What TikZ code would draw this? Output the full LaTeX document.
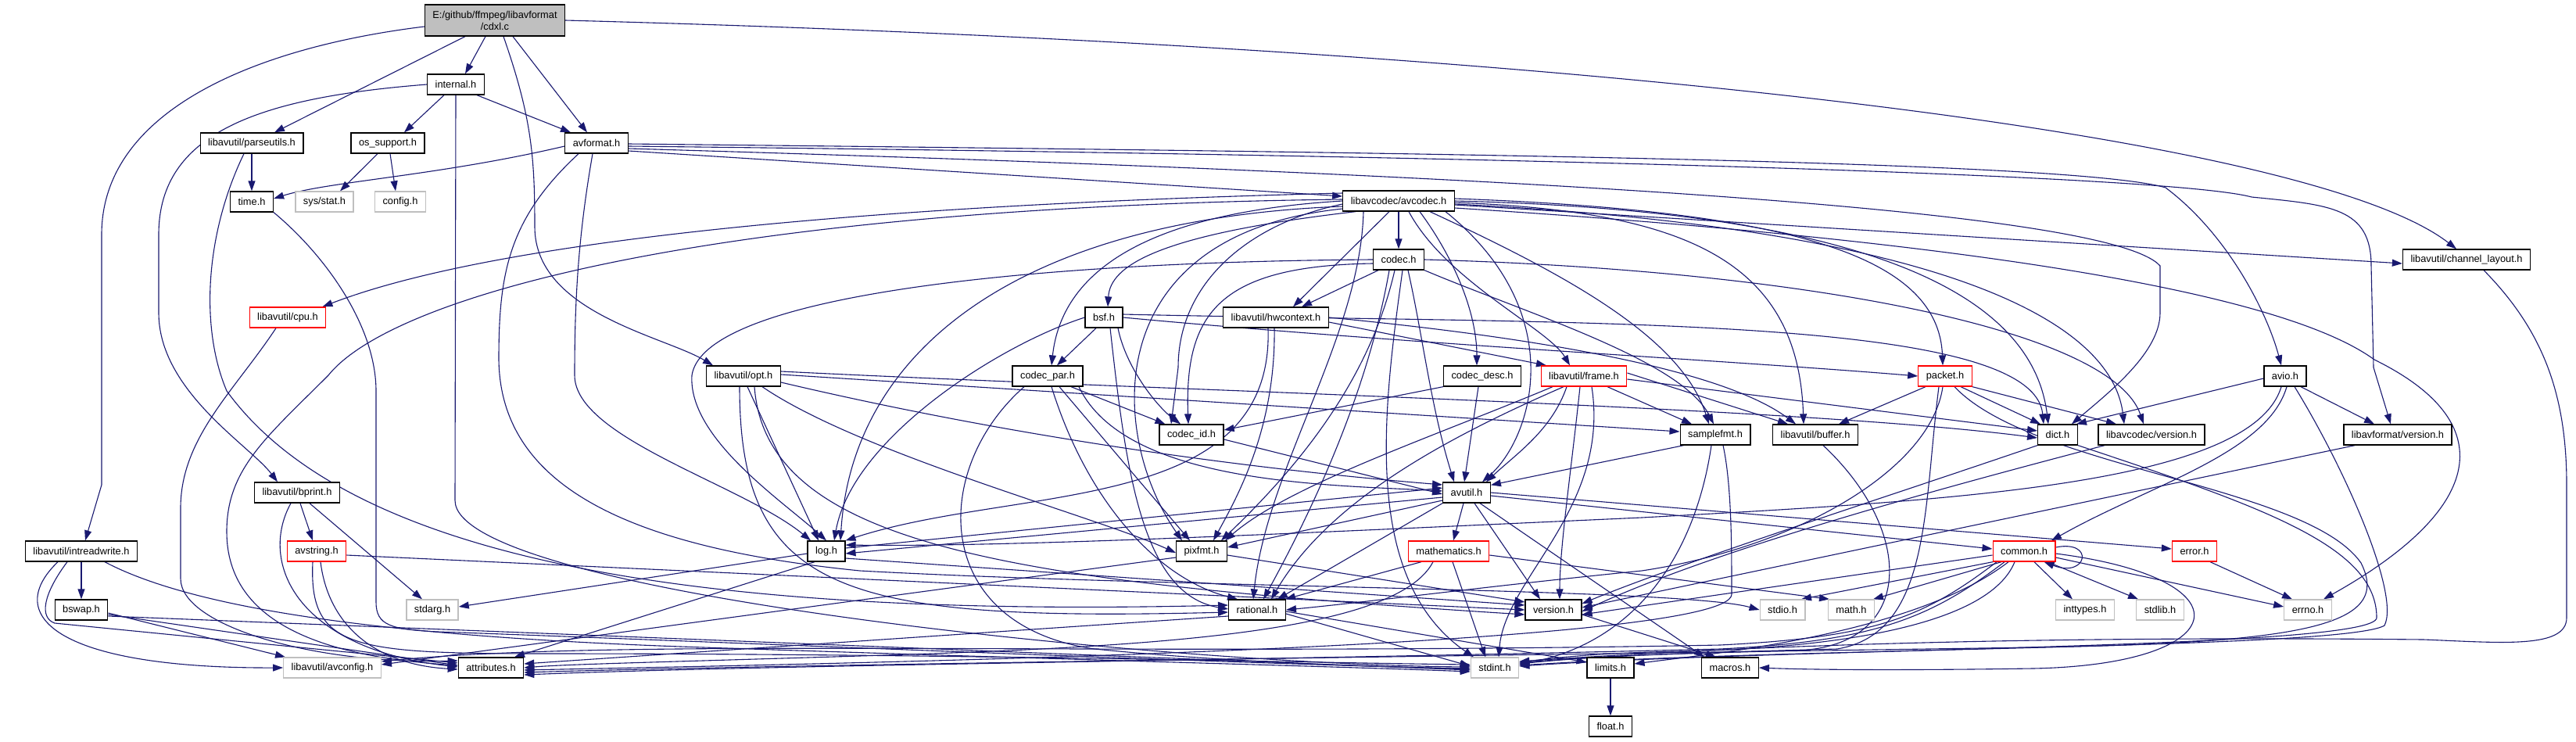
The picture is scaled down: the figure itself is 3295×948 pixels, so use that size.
\documentclass[tikz,border=0pt]{standalone}
\usepackage{fontspec}
\setmainfont{Liberation Sans}
\usetikzlibrary{arrows.meta}
\pgfdeclarelayer{bg}
\pgfsetlayers{bg,main}
\definecolor{edgec}{HTML}{191970}
\definecolor{grayb}{HTML}{BFBFBF}
\begin{document}
\begin{tikzpicture}[x=1pt,y=-1pt,
  nb/.style={draw=black,line width=1.3pt,fill=white,minimum height=26pt,inner xsep=10pt,inner ysep=0pt,font=\fontsize{12.8}{15}\selectfont},
  ng/.style={nb,draw=grayb},
  nr/.style={nb,draw=red},
  nroot/.style={nb,fill=grayb,align=center,minimum height=40pt},
  edg/.style={draw=edgec,line width=1.1pt,-{Triangle[length=13pt,width=9pt]}}]
\begin{pgfonlayer}{bg}
\fill[white] (0,0) rectangle (3295,948);
\end{pgfonlayer}
\useasboundingbox (0,0) rectangle (3295,948);
% nodes
\node[nroot] (cdxl) at (633,26) {E:/github/ffmpeg/libavformat\\/cdxl.c};
\node[nb] (internal) at (583,108) {internal.h};
\node[nb] (parseutils) at (322,183) {libavutil/parseutils.h};
\node[nb] (ossupport) at (496,183) {os\_support.h};
\node[nb] (avformat) at (763,183) {avformat.h};
\node[nb] (timeh) at (322,258) {time.h};
\node[ng] (sysstat) at (415,258) {sys/stat.h};
\node[ng] (config) at (512,258) {config.h};
\node[nb] (avcodec) at (1789,257) {libavcodec/avcodec.h};
\node[nb] (codec) at (1789,332) {codec.h};
\node[nb] (chlayout) at (3155,332) {libavutil/channel\_layout.h};
\node[nr] (cpu) at (368,406) {libavutil/cpu.h};
\node[nb] (bsf) at (1412,406) {bsf.h};
\node[nb] (hwcontext) at (1632,406) {libavutil/hwcontext.h};
\node[nb] (opt) at (951,481) {libavutil/opt.h};
\node[nb] (codecpar) at (1340,481) {codec\_par.h};
\node[nb] (codecdesc) at (1896,481) {codec\_desc.h};
\node[nr] (frame) at (2026,481) {libavutil/frame.h};
\node[nr] (packet) at (2488,481) {packet.h};
\node[nb] (avio) at (2923,481) {avio.h};
\node[nb] (codecid) at (1524,556) {codec\_id.h};
\node[nb] (samplefmt) at (2194,556) {samplefmt.h};
\node[nb] (buffer) at (2322,556) {libavutil/buffer.h};
\node[nb] (dict) at (2632,556) {dict.h};
\node[nb] (lavcversion) at (2752,556) {libavcodec/version.h};
\node[nb] (lavfversion) at (3067,556) {libavformat/version.h};
\node[nb] (bprint) at (380,630) {libavutil/bprint.h};
\node[nb] (avutil) at (1876,630) {avutil.h};
\node[nb] (intreadwrite) at (104,705) {libavutil/intreadwrite.h};
\node[nr] (avstring) at (405,705) {avstring.h};
\node[nb] (log) at (1057,705) {log.h};
\node[nb] (pixfmt) at (1537,705) {pixfmt.h};
\node[nr] (mathematics) at (1853,705) {mathematics.h};
\node[nr] (common) at (2589,705) {common.h};
\node[nr] (error) at (2807,705) {error.h};
\node[nb] (bswap) at (104,780) {bswap.h};
\node[ng] (stdarg) at (553,780) {stdarg.h};
\node[nb] (rational) at (1608,780) {rational.h};
\node[nb] (version) at (1987,780) {version.h};
\node[ng] (stdio) at (2280,780) {stdio.h};
\node[ng] (math) at (2368,780) {math.h};
\node[ng] (inttypes) at (2667,780) {inttypes.h};
\node[ng] (stdlib) at (2763,780) {stdlib.h};
\node[ng] (errno) at (2952,780) {errno.h};
\node[ng] (avconfig) at (425,854) {libavutil/avconfig.h};
\node[nb] (attributes) at (628,854) {attributes.h};
\node[ng] (stdint) at (1912,854) {stdint.h};
\node[nb] (limits) at (2060,854) {limits.h};
\node[nb] (macros) at (2213,854) {macros.h};
\node[nb] (float) at (2060,929) {float.h};
\begin{pgfonlayer}{bg}
% cdxl
\draw[edg] ([yshift=-8pt]cdxl.west) .. controls (330,60) and (130,140) .. (130,300) -- (130,620) -- ([xshift=5pt]intreadwrite.north);
\draw[edg] ([xshift=-38pt]cdxl.south) -- ([xshift=29pt]parseutils.north);
\draw[edg] ([xshift=-12pt]cdxl.south) -- ([xshift=12pt]internal.north);
\draw[edg] ([xshift=11pt]cdxl.south) .. controls (680,150) and (684,200) .. (684,290) .. controls (684,400) and (850,430) .. ([xshift=-39pt]opt.north);
\draw[edg] ([xshift=23pt]cdxl.south) -- ([xshift=-12pt]avformat.north);
\draw[edg] (cdxl.east) .. controls (2000,60) and (2950,170) .. ([xshift=-13pt]chlayout.north);
% internal
\draw[edg] (internal.west) .. controls (330,125) and (203,170) .. (203,300) -- (203,400) .. controls (203,500) and (320,570) .. ([xshift=-25pt]bprint.north);
\draw[edg] ([xshift=-15pt]internal.south) -- ([xshift=21pt]ossupport.north);
\draw[edg] ([xshift=27pt]internal.south) -- ([xshift=-33pt]avformat.north);
\draw[edg] (internal.south) -- (582,640) .. controls (582,760) and (1500,850) .. ([yshift=1pt]stdint.west);
% parseutils
\draw[edg] (parseutils) -- (timeh);
\draw[edg] ([xshift=-10pt]parseutils.south) .. controls (262,300) and (256,420) .. (290,500) .. controls (450,720) and (900,790) .. ([yshift=6pt]rational.west);
% os_support
\draw[edg] ([xshift=-13pt]ossupport.south) -- ([xshift=20pt]sysstat.north);
\draw[edg] ([xshift=3pt]ossupport.south) -- ([xshift=-6pt]config.north);
% avformat
\draw[edg] ([yshift=-4pt]avformat.west) .. controls (560,225) and (420,232) .. ([yshift=4pt]timeh.east);
\draw[edg] ([xshift=-5pt]avformat.south) .. controls (740,300) and (735,380) .. (735,480) .. controls (735,560) and (950,620) .. ([xshift=-20pt]log.north);
\draw[edg] ([xshift=-23pt]avformat.south) .. controls (650,280) and (638,350) .. (638,460) .. controls (640,620) and (800,700) .. (1100,730) .. controls (1500,752) and (2150,752) .. (stdio.west);
\draw[edg] ([yshift=-10pt]avformat.east) -- ([yshift=6pt]avcodec.west);
\draw[edg] ([yshift=-1pt]avformat.east) .. controls (1800,195) and (2650,205) .. (2770,240) .. controls (2850,300) and (2900,400) .. ([xshift=-5pt]avio.north);
\draw[edg] ([yshift=-4pt]avformat.east) .. controls (2000,200) and (2780,225) .. (2880,252) .. controls (2980,262) and (3033,265) .. (3033,340) -- (3036,470) -- ([xshift=-9pt]lavfversion.north);
\draw[edg] ([yshift=-7pt]avformat.east) .. controls (2000,225) and (2700,270) .. (2763,340) -- (2763,400) .. controls (2763,450) and (2700,500) .. ([xshift=-8pt]dict.north east);
% avcodec
\draw[edg] (avcodec) -- (codec);
\draw[edg] ([xshift=-55pt]avcodec.south) .. controls (1480,300) and (1420,340) .. ([xshift=5pt]bsf.north);
\draw[edg] ([xshift=-12pt]avcodec.south) -- ([xshift=22pt]hwcontext.north);
\draw[edg] (avcodec.west) .. controls (1500,270) and (1360,330) .. ([xshift=5pt]codecpar.north);
\draw[edg] ([yshift=-4pt]avcodec.west) .. controls (1600,285) and (1507,360) .. (1507,470) -- ([xshift=-26pt]codecid.north);
\draw[edg] ([xshift=27pt]avcodec.south) .. controls (1860,330) and (1889,400) .. ([xshift=-7pt]codecdesc.north);
\draw[edg] ([xshift=13pt]avcodec.south) .. controls (1850,360) and (1980,420) .. ([xshift=-18pt]frame.north);
\draw[edg] ([xshift=40pt]avcodec.south) .. controls (2000,350) and (2150,430) .. ([xshift=-8pt]samplefmt.north);
\draw[edg] ([xshift=60pt]avcodec.south) .. controls (2010,400) and (1960,560) .. ([xshift=20pt]avutil.north);
\draw[edg] ([yshift=-2pt]avcodec.east) .. controls (2150,270) and (2300,330) .. ([xshift=-15pt]buffer.north);
\draw[edg] ([yshift=3pt]avcodec.east) .. controls (2300,270) and (2480,330) .. ([xshift=-3pt]packet.north);
\draw[edg] (avcodec.east) .. controls (2400,270) and (2600,380) .. ([xshift=-12pt]dict.north);
\draw[edg] ([yshift=-4pt]avcodec.east) .. controls (2450,290) and (2700,400) .. ([xshift=-35pt]lavcversion.north);
\draw[edg] ([yshift=-9pt]avcodec.east) .. controls (2400,300) and (2900,360) .. (3037,460) .. controls (3200,540) and (3180,650) .. ([xshift=20pt]errno.north);
\draw[edg] ([yshift=-5pt]avcodec.east) -- ([yshift=-5pt]chlayout.west);
\draw[edg] ([yshift=-7pt]avcodec.west) .. controls (1300,280) and (1090,450) .. ([xshift=18pt]log.north);
\draw[edg] ([yshift=-10pt]avcodec.west) .. controls (1400,300) and (1420,560) .. ([xshift=-25pt]pixfmt.north);
\draw[edg] ([xshift=-45pt]avcodec.south) .. controls (1740,430) and (1620,600) .. ([xshift=-5pt]rational.north);
\draw[edg] ([yshift=2pt]avcodec.west) .. controls (900,265) and (500,380) .. (420,480) .. controls (340,560) and (290,600) .. (290,680) .. controls (290,800) and (420,840) .. ([yshift=3pt]attributes.west);
\draw[edg] ([yshift=10pt]avcodec.west) .. controls (1000,265) and (600,320) .. ([xshift=-5pt]cpu.north east);
% codec
\draw[edg] ([xshift=-26pt]codec.south) -- ([xshift=33pt]hwcontext.north);
\draw[edg] ([xshift=5pt]codec.south) .. controls (1770,520) and (1740,740) .. ([xshift=-27pt]stdint.north);
\draw[edg] ([xshift=12pt]codec.south) .. controls (1820,430) and (1830,520) .. ([xshift=-16pt]avutil.north);
\draw[edg] (codec.west) .. controls (1300,335) and (900,380) .. (885,480) .. controls (880,560) and (1000,640) .. (log.north);
\draw[edg] ([xshift=-5pt]codec.south) .. controls (1760,450) and (1700,560) .. ([xshift=25pt]pixfmt.north);
\draw[edg] ([xshift=-12pt]codec.south) .. controls (1750,500) and (1680,650) .. ([xshift=8pt]rational.north);
\draw[edg] (codec.south east) .. controls (1950,400) and (2150,460) .. ([xshift=-2pt]samplefmt.north);
\draw[edg] ([yshift=-5pt]codec.west) .. controls (1560,340) and (1515,400) .. ([xshift=-4pt]codecid.north);
\draw[edg] (codec.east) .. controls (2300,345) and (2700,420) .. ([xshift=-10pt]lavcversion.north);
% bsf
\draw[edg] (bsf.east) .. controls (1800,440) and (2200,460) .. (packet.west);
\draw[edg] ([yshift=4pt]bsf.east) .. controls (2000,415) and (2600,400) .. ([xshift=-18pt]dict.north);
\draw[edg] (bsf.west) .. controls (1280,440) and (1090,560) .. ([xshift=10pt]log.north);
\draw[edg] ([xshift=8pt]bsf.south) .. controls (1440,600) and (1460,760) .. ([yshift=1pt]rational.west);
\draw[edg] ([xshift=18pt]bsf.south) .. controls (1440,470) and (1480,520) .. ([xshift=-14pt]codecid.north);
\draw[edg] ([xshift=-10pt]bsf.south) -- ([xshift=12pt]codecpar.north);
% hwcontext
\draw[edg] (hwcontext.east) .. controls (1950,430) and (2200,470) .. ([xshift=-25pt]buffer.north);
\draw[edg] ([yshift=-6pt]hwcontext.east) -- ([xshift=-48pt]frame.north);
\draw[edg] ([xshift=-10pt]hwcontext.south) .. controls (1630,660) and (1300,620) .. (log.north east);
\draw[edg] ([xshift=-2pt]hwcontext.south) .. controls (1632,550) and (1580,640) .. ([xshift=15pt]pixfmt.north);
% frame
\draw[edg] ([xshift=-22pt]frame.south) .. controls (1985,550) and (1940,580) .. ([xshift=25pt]avutil.north);
\draw[edg] ([yshift=4pt]frame.east) -- ([xshift=-35pt]buffer.north);
\draw[edg] ([yshift=-4pt]frame.east) -- ([yshift=5pt]dict.west);
\draw[edg] ([xshift=-26pt]frame.south) .. controls (1850,560) and (1700,640) .. ([xshift=18pt]rational.north);
\draw[edg] ([xshift=-40pt]frame.south) .. controls (1830,560) and (1650,620) .. ([xshift=30pt]pixfmt.north);
\draw[edg] ([xshift=30pt]frame.south) -- ([xshift=-30pt]samplefmt.north);
\draw[edg] ([xshift=-5pt]frame.south) .. controls (2010,600) and (1995,700) .. ([xshift=8pt]version.north);
\draw[edg] ([xshift=10pt]frame.south) .. controls (2060,650) and (1925,740) .. ([xshift=5pt]stdint.north);
% samplefmt
\draw[edg] ([xshift=5pt]samplefmt.south west) -- ([yshift=-4pt]avutil.north east);
\draw[edg] ([xshift=-5pt]samplefmt.south) .. controls (2170,700) and (2100,820) .. ([yshift=4pt]stdint.east);
\draw[edg] ([xshift=10pt]samplefmt.south) .. controls (2215,620) and (2215,700) .. (2215,760) .. controls (2215,830) and (1000,850) .. ([yshift=-3pt]attributes.east);
% buffer
\draw[edg] ([xshift=10pt]buffer.south) .. controls (2450,680) and (2450,825) .. (2300,832) .. controls (2150,836) and (2050,838) .. ([yshift=6pt]stdint.east);
% packet
\draw[edg] ([xshift=-25pt]packet.south) -- ([xshift=30pt]buffer.north);
\draw[edg] ([xshift=20pt]packet.south) -- ([xshift=-22pt]dict.north);
\draw[edg] (packet.south east) -- ([xshift=-45pt]lavcversion.north);
\draw[edg] ([xshift=-8pt]packet.south) .. controls (2460,650) and (2470,810) .. (2350,830) .. controls (2200,834) and (2050,838) .. ([yshift=5pt]stdint.east);
\draw[edg] ([xshift=-3pt]packet.south) .. controls (2470,600) and (2300,700) .. (2100,730) .. controls (1900,750) and (1750,770) .. (rational.east);
\draw[edg] ([xshift=12pt]packet.south) .. controls (2600,600) and (2950,620) .. (3020,720) .. controls (3060,800) and (2950,822) .. (2600,828) .. controls (1800,840) and (1000,850) .. ([yshift=-6pt]attributes.east);
% avio
\draw[edg] ([yshift=-3pt]avio.west) -- ([xshift=-2pt]dict.north east);
\draw[edg] ([xshift=-5pt]avio.south) .. controls (2880,620) and (2500,640) .. (2100,662) .. controls (1700,680) and (1300,700) .. ([yshift=8pt]log.east);
\draw[edg] ([xshift=2pt]avio.south) .. controls (2900,580) and (2750,620) .. ([xshift=35pt]common.north);
\draw[edg] ([xshift=20pt]avio.south) -- ([xshift=-30pt]lavfversion.north);
\draw[edg] ([xshift=12pt]avio.south) .. controls (3000,600) and (3070,760) .. (3050,800) .. controls (3000,830) and (2300,828) .. ([yshift=3pt]stdint.east);
% versions
\draw[edg] ([xshift=-55pt]lavfversion.south) -- ([yshift=3pt]version.east);
\draw[edg] ([xshift=-60pt]lavcversion.south) .. controls (2500,620) and (2200,700) .. ([yshift=-2pt]version.east);
% dict
\draw[edg] (dict.south west) .. controls (2400,640) and (2150,720) .. ([yshift=8pt]version.east);
\draw[edg] (dict.south east) .. controls (2900,650) and (3040,700) .. (3040,790) .. controls (3040,830) and (2300,828) .. ([yshift=2pt]stdint.east);
% common
\draw[edg] ([yshift=-8pt]common.east) -- ([yshift=4pt]errno.west);
\draw[edg] ([xshift=13pt]common.south) -- ([xshift=-16pt]inttypes.north);
\draw[edg] ([xshift=30pt]common.south) -- ([xshift=-28pt]stdlib.north);
\draw[edg] ([xshift=-29pt]common.south) -- ([xshift=28pt]math.north);
\draw[edg] ([xshift=-40pt]common.south) -- ([xshift=24pt]stdio.north);
\draw[edg] ([xshift=-20pt]common.south) .. controls (2450,810) and (2200,835) .. ([yshift=5pt]limits.east);
\draw[edg] ([xshift=-12pt]common.south) .. controls (2540,810) and (2300,830) .. (2150,833) .. controls (2050,835) and (2000,840) .. ([yshift=7pt]stdint.east);
\draw[edg] ([yshift=-3pt]common.east) .. controls (2880,740) and (2860,850) .. (2600,855) .. controls (2400,858) and (2300,856) .. (macros.east);
\draw[edg] ([yshift=-5pt]common.west) -- ([yshift=-6pt]version.east);
\draw[edg] ([xshift=-25pt]common.south) .. controls (2470,790) and (2400,820) .. (2200,830) .. controls (1600,845) and (1000,850) .. ([yshift=-9pt]attributes.east);
\draw[edg] ([xshift=-35pt]common.south) .. controls (2460,790) and (2400,815) .. (2200,825) .. controls (1400,840) and (800,815) .. ([yshift=8pt]avconfig.east);
\draw[edg] ([yshift=5pt]common.east) .. controls (2680,690) and (2670,740) .. ([xshift=-15pt]common.south east);
% error
\draw[edg] ([xshift=20pt]error.south) -- ([xshift=-20pt]errno.north);
% avutil
\draw[edg] ([xshift=-4pt]avutil.south) -- ([xshift=6pt]mathematics.north);
\draw[edg] ([xshift=10pt]avutil.south) -- ([xshift=-17pt]version.north);
\draw[edg] ([xshift=17pt]avutil.south) -- ([xshift=-33pt]macros.north);
\draw[edg] (avutil.south west) -- ([xshift=26pt]rational.north);
\draw[edg] ([yshift=-10pt]avutil.west) -- ([yshift=5pt]pixfmt.east);
\draw[edg] ([yshift=-6pt]avutil.west) -- ([yshift=-3pt]log.east);
\draw[edg] ([yshift=4pt]log.east) -- ([yshift=6pt]avutil.west);
\draw[edg] ([yshift=-4pt]avutil.east) -- ([yshift=3pt]common.west);
\draw[edg] (avutil.east) -- ([yshift=3pt]error.west);
% mathematics
\draw[edg] ([xshift=-35pt]mathematics.south) -- ([xshift=-1pt]rational.north east);
\draw[edg] ([xshift=5pt]mathematics.south) -- ([xshift=-12pt]stdint.north);
\draw[edg] ([yshift=-5pt]mathematics.east) -- ([xshift=-28pt]math.north);
\draw[edg] ([xshift=-20pt]mathematics.south) .. controls (1780,820) and (1400,830) .. (1000,842) .. controls (800,848) and (720,850) .. (attributes.east);
% pixfmt
\draw[edg] ([yshift=-8pt]pixfmt.west) -- ([yshift=4pt]avconfig.east);
\draw[edg] ([yshift=-5pt]pixfmt.east) -- ([yshift=10pt]version.west);
% rational
\draw[edg] ([yshift=-5pt]rational.east) -- ([yshift=2pt]stdint.west);
\draw[edg] ([yshift=-2pt]rational.east) -- ([yshift=7pt]limits.west);
\draw[edg] ([yshift=-8pt]rational.west) -- ([yshift=5pt]attributes.east);
% version, limits
\draw[edg] ([yshift=-6pt]version.east) -- ([xshift=-18pt]macros.north);
\draw[edg] (limits) -- (float);
% log
\draw[edg] ([yshift=-3pt]log.west) -- ([yshift=4pt]stdarg.east);
\draw[edg] ([xshift=-15pt]log.south) -- ([xshift=30pt]attributes.north);
\draw[edg] ([yshift=-9pt]log.east) -- ([yshift=6pt]version.west);
% opt
\draw[edg] ([xshift=5pt]opt.south) -- ([xshift=-10pt]log.north);
\draw[edg] ([xshift=-5pt]opt.south) .. controls (946,760) and (1080,795) .. ([yshift=-3pt]rational.west);
\draw[edg] ([yshift=-8pt]opt.east) .. controls (1300,560) and (1600,600) .. ([yshift=10pt]avutil.west);
\draw[edg] ([yshift=6pt]opt.east) .. controls (1500,500) and (2300,520) .. ([yshift=-4pt]dict.west);
\draw[edg] ([yshift=2pt]opt.east) -- ([yshift=4pt]samplefmt.west);
\draw[edg] ([xshift=24pt]opt.south) .. controls (1100,580) and (1400,660) .. ([yshift=-2pt]pixfmt.west);
\draw[edg] ([xshift=14pt]opt.south) .. controls (980,700) and (1300,745) .. ([yshift=-6pt]version.west);
% codec_par
\draw[edg] ([xshift=30pt]codecpar.south) -- ([xshift=8pt]codecid.north west);
\draw[edg] ([xshift=40pt]codecpar.south) .. controls (1440,620) and (1700,620) .. ([yshift=2pt]avutil.west);
\draw[edg] ([xshift=15pt]codecpar.south) -- ([xshift=-15pt]pixfmt.north);
\draw[edg] ([xshift=5pt]codecpar.south) .. controls (1390,640) and (1480,740) .. ([xshift=-25pt]rational.north);
\draw[edg] ([xshift=-30pt]codecpar.south) .. controls (1190,600) and (1190,800) .. (1400,830) .. controls (1600,850) and (1800,853) .. ([yshift=-2pt]stdint.west);
% codec_desc, codec_id
\draw[edg] ([xshift=-5pt]codecdesc.south) -- ([xshift=-3pt]avutil.north);
\draw[edg] (codecdesc.south west) -- ([yshift=6pt]codecid.east);
\draw[edg] ([yshift=-6pt]codecid.east) -- ([yshift=-2pt]avutil.west);
% cpu
\draw[edg] ([xshift=-15pt]cpu.south) .. controls (300,500) and (231,560) .. (231,650) -- (231,740) .. controls (231,800) and (400,850) .. ([yshift=9pt]attributes.west);
% bprint
\draw[edg] ([xshift=4pt]bprint.south) -- ([xshift=-5pt]avstring.north);
\draw[edg] ([xshift=16pt]bprint.south) -- ([xshift=-13pt]stdarg.north);
\draw[edg] ([xshift=-8pt]bprint.south) .. controls (330,720) and (380,830) .. ([yshift=1pt]attributes.west);
% avstring
\draw[edg] ([xshift=5pt]avstring.south) .. controls (420,800) and (480,850) .. ([yshift=-2pt]attributes.west);
\draw[edg] ([xshift=-5pt]avstring.south) .. controls (395,830) and (450,836) .. (700,836) .. controls (1200,836) and (1700,848) .. ([yshift=4pt]stdint.west);
\draw[edg] ([yshift=-5pt]avstring.east) -- (version.west);
% intreadwrite
\draw[edg] (intreadwrite) -- (bswap);
\draw[edg] ([xshift=-30pt]intreadwrite.south) .. controls (0,790) and (80,855) .. (avconfig.west);
\draw[edg] ([xshift=-18pt]intreadwrite.south) .. controls (55,760) and (50,790) .. (70,797) -- ([yshift=6pt]attributes.west);
\draw[edg] ([xshift=30pt]intreadwrite.south) .. controls (250,780) and (500,815) .. (900,828) .. controls (1400,845) and (1700,852) .. ([yshift=-5pt]stdint.west);
% bswap
\draw[edg] ([yshift=-4pt]bswap.east) -- ([xshift=3pt]avconfig.north west);
\draw[edg] ([yshift=-6pt]bswap.east) -- ([yshift=3pt]attributes.west);
\draw[edg] ([yshift=-8pt]bswap.east) -- ([yshift=-3pt]stdint.west);
% time
\draw[edg] (timeh.south east) .. controls (420,330) and (481,420) .. (481,500) -- (481,770) .. controls (481,800) and (500,805) .. (560,808) .. controls (900,820) and (1600,850) .. ([yshift=-1pt]stdint.west);
% channel layout
\draw[edg] ([xshift=22pt]chlayout.south) .. controls (3250,420) and (3283,500) .. (3283,620) -- (3283,790) .. controls (3283,830) and (3200,822) .. (3100,818) .. controls (2500,812) and (2150,832) .. ([yshift=8pt]stdint.east);
\end{pgfonlayer}
\end{tikzpicture}
\end{document}
